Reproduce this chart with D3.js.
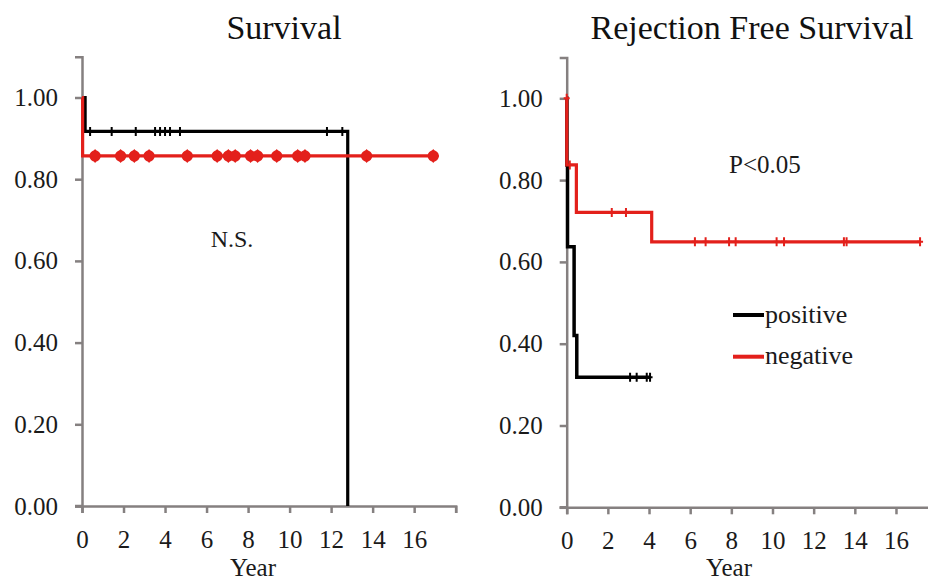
<!DOCTYPE html>
<html><head><meta charset="utf-8">
<script src="https://cdn.jsdelivr.net/npm/d3@7"></script>
<style>
body{margin:0;background:#fff;}
svg text{font-family:'Liberation Serif','DejaVu Serif','Times New Roman',serif !important;}
</style></head>
<body>
<svg id="c" width="928" height="581"></svg>
<script>
// ---- data ----
const xTicks = [0,2,4,6,8,10,12,14,16];
const yTicks = [0,0.2,0.4,0.6,0.8,1.0];

// Survival panel (time in years, survival)
const survPosCurve = [[0,1],[0.15,0.917],[12.8,0]];
const survNegCurve = [[0,1],[0.03,0.857],[16.9,0.857]];
const survPosCensor = [0.39,1.43,2.59,3.52,3.76,4.0,4.24,4.72,11.8,12.54];
const survPosCensorY = 0.917;
const survNegCensor = [0.63,1.86,2.52,3.23,5.07,6.51,7.05,7.38,8.12,8.46,9.38,10.39,10.74,13.71,16.92];
const survNegCensorY = 0.857;

// Rejection free survival panel
const rfsPosCurve = [[0,1],[0.01,0.837],[0.04,0.637],[0.36,0.42],[0.49,0.318],[4.05,0.318]];
const rfsNegCurve = [[0,1],[0.005,0.837],[0.47,0.721],[4.13,0.649],[17.17,0.649]];
const rfsPosCensor = [[3.08,0.318],[3.4,0.318],[3.89,0.318],[4.05,0.318]];
const rfsNegCensor = [[0,1],[0.15,0.837],[2.19,0.721],[2.88,0.721],[6.23,0.649],[6.75,0.649],[7.89,0.649],[8.21,0.649],[10.2,0.649],[10.56,0.649],[13.47,0.649],[13.6,0.649],[17.17,0.649]];

const titles = ["Survival","Rejection Free Survival"];
const legendLabels = ["positive","negative"];
const RED = "#e3201b", BLACK = "#000";
const AXIS = "#858080";

const svg = d3.select("#c");

function panel(opt){
  const x = d3.scaleLinear().domain([0,18]).range([opt.x0, opt.x0 + 18*opt.xs]);
  const y = d3.scaleLinear().domain([0,1.1]).range([opt.y0, opt.y0 - 1.1*opt.ys]);
  const g = svg.append("g");

  const xa = g.append("g").attr("transform",`translate(0,${opt.y0})`)
    .call(d3.axisBottom(x).tickValues(xTicks.concat([18])).tickSize(7).tickPadding(17).tickFormat(d=> d===18?"":d));
  const ya = g.append("g").attr("transform",`translate(${opt.x0},0)`)
    .call(d3.axisLeft(y).tickValues(yTicks).tickSize(7).tickPadding(17).tickFormat(d3.format(".2f")));
  [xa,ya].forEach(a=>{
    a.attr("font-family",null).attr("font-size",null);
    a.select(".domain").attr("stroke",AXIS).attr("stroke-width",2.5);
    a.selectAll(".tick line").attr("stroke",AXIS).attr("stroke-width",2.5);
    a.selectAll("text").attr("font-size",25).attr("fill","#1a1a1a");
  });
  g.append("line").attr("x1",opt.x0-7).attr("x2",opt.x0).attr("y1",opt.y0).attr("y2",opt.y0)
    .attr("stroke",AXIS).attr("stroke-width",2.5);

  g.append("text").attr("x",opt.titleX).attr("y",39).attr("text-anchor","middle")
    .attr("font-size",34).attr("fill","#111").text(opt.title);
  g.append("text").attr("x",opt.yearX).attr("y",576).attr("text-anchor","middle")
    .attr("font-size",25).attr("fill","#1a1a1a").text("Year");

  const line = d3.line().x(d=>x(d[0])).y(d=>y(d[1])).curve(d3.curveStepAfter);
  return {g,x,y,line};
}

// ---- left panel ----
const L = panel({x0:82,xs:20.76,y0:506,ys:408.5,title:titles[0],titleX:284,yearX:253});
L.g.append("path").datum(survPosCurve).attr("d",L.line).attr("fill","none")
  .attr("stroke",BLACK).attr("stroke-width",3.2);
L.g.selectAll(".bc").data(survPosCensor).join("path")
  .attr("d",d=>`M${L.x(d)},${L.y(survPosCensorY)-4.5}V${L.y(survPosCensorY)+4.5}M${L.x(d)-2},${L.y(survPosCensorY)}h4`)
  .attr("stroke",BLACK).attr("stroke-width",2);
L.g.append("path").datum(survNegCurve).attr("d",L.line).attr("fill","none")
  .attr("stroke",RED).attr("stroke-width",3.2);
L.g.selectAll(".rc").data(survNegCensor).join("path")
  .attr("d",d3.symbol().type(d3.symbolCircle).size(100))
  .attr("transform",d=>`translate(${L.x(d)},${L.y(survNegCensorY)})`)
  .attr("fill",RED);
L.g.selectAll(".rd").data(survNegCensor).join("path")
  .attr("d",d3.symbol().type(d3.symbolDiamond).size(70))
  .attr("transform",d=>`translate(${L.x(d)},${L.y(survNegCensorY)}) scale(1.3,0.9)`)
  .attr("fill",RED);
L.g.append("text").attr("x",232).attr("y",247).attr("text-anchor","middle")
  .attr("font-size",24).attr("fill","#1a1a1a").text("N.S.");

// ---- right panel ----
const R = panel({x0:566.7,xs:20.58,y0:507.3,ys:409,title:titles[1],titleX:752,yearX:729});
R.g.append("path").datum(rfsPosCurve).attr("d",R.line).attr("fill","none")
  .attr("stroke",BLACK).attr("stroke-width",3.5);
R.g.selectAll(".bc").data(rfsPosCensor).join("path")
  .attr("d",d=>`M${R.x(d[0])},${R.y(d[1])-4.5}V${R.y(d[1])+4.5}M${R.x(d[0])-2.5},${R.y(d[1])}h5`)
  .attr("stroke",BLACK).attr("stroke-width",2);
R.g.append("path").datum(rfsNegCurve).attr("d",R.line).attr("fill","none")
  .attr("stroke",RED).attr("stroke-width",3.2);
R.g.selectAll(".rc").data(rfsNegCensor).join("path")
  .attr("d",d=>`M${R.x(d[0])},${R.y(d[1])-4.5}V${R.y(d[1])+4.5}M${R.x(d[0])-3},${R.y(d[1])}h6`)
  .attr("stroke",RED).attr("stroke-width",2);
R.g.append("text").attr("x",765).attr("y",173).attr("text-anchor","middle")
  .attr("font-size",25).attr("fill","#1a1a1a").text("P<0.05");

// legend
const leg = R.g.append("g");
[[BLACK,315,323],[RED,356.7,364]].forEach((d,i)=>{
  leg.append("line").attr("x1",733).attr("x2",764).attr("y1",d[1]).attr("y2",d[1])
    .attr("stroke",d[0]).attr("stroke-width",4);
  leg.append("text").attr("x",765).attr("y",d[2]).attr("font-size",26)
    .attr("fill","#1a1a1a").text(legendLabels[i]);
});
</script>
</body></html>
